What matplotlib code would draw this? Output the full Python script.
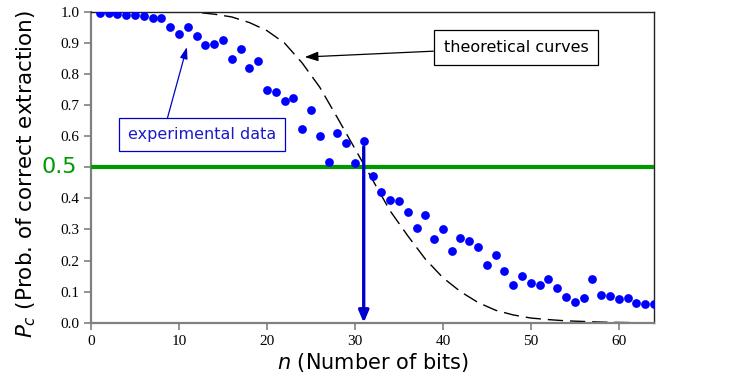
import numpy as np
import matplotlib.pyplot as plt

# experimental data, n = 1..64
n_exp = np.arange(1, 65)
p_exp = [0.996, 0.997, 0.995, 0.991, 0.991, 0.986, 0.980, 0.981, 0.951, 0.929,
         0.952, 0.923, 0.895, 0.897, 0.909, 0.850, 0.882, 0.821, 0.842, 0.748,
         0.743, 0.714, 0.722, 0.625, 0.686, 0.602, 0.518, 0.612, 0.579, 0.513,
         0.586, 0.472, 0.421, 0.395, 0.392, 0.356, 0.305, 0.348, 0.270, 0.302,
         0.230, 0.273, 0.264, 0.243, 0.186, 0.218, 0.167, 0.120, 0.150, 0.128,
         0.121, 0.142, 0.113, 0.084, 0.068, 0.080, 0.142, 0.088, 0.086, 0.076,
         0.080, 0.063, 0.059, 0.060]

# theoretical curve, read every 2 bits
n_th = np.arange(0, 66, 2)
p_th = [1.0, 1.0, 1.0, 1.0, 1.0, 1.0, 0.999, 0.993, 0.984, 0.966, 0.940,
        0.900, 0.836, 0.758, 0.660, 0.560, 0.460, 0.360, 0.280, 0.205, 0.145,
        0.100, 0.065, 0.040, 0.025, 0.015, 0.010, 0.006, 0.004, 0.002, 0.001,
        0.0, 0.0]

n_half = 31
p_top = 0.566

fig = plt.figure(figsize=(7.31, 3.84), dpi=100)
ax = fig.add_axes([0.1245, 0.1596, 0.7702, 0.8092])

ax.plot(n_th, p_th, color='k', linewidth=1, dashes=(11, 5), zorder=2)
ax.axhline(0.5, color='#009a00', linewidth=3, zorder=3)
ax.plot(n_exp, p_exp, 'o', color='#0000ff', markersize=6.3, markeredgewidth=0, zorder=4)

ax.annotate('', xy=(n_half, 0.0), xytext=(n_half, p_top),
            arrowprops=dict(arrowstyle='-|>,head_width=0.3,head_length=0.7',
                            color='#0000cc', linewidth=2.4, shrinkA=0, shrinkB=0),
            zorder=5)

ax.annotate('theoretical curves', xy=(24.3, 0.855), xytext=(40.1, 0.886),
            fontsize=11.5, ha='left', va='center',
            bbox=dict(boxstyle='square,pad=0.62', facecolor='white', edgecolor='k', linewidth=0.9),
            arrowprops=dict(arrowstyle='-|>,head_width=0.25,head_length=0.7',
                            color='k', linewidth=0.9, shrinkA=0, shrinkB=0))

ax.annotate('experimental data', xy=(10.9, 0.887), xytext=(4.2, 0.606),
            fontsize=11.5, ha='left', va='center', color='#1a1acc',
            bbox=dict(boxstyle='square,pad=0.55', facecolor='white', edgecolor='#0000cc', linewidth=0.9),
            arrowprops=dict(arrowstyle='-|>,head_width=0.2,head_length=0.6',
                            color='#0000cc', linewidth=0.9, shrinkA=0, shrinkB=0,
                            relpos=(0.25, 1.0)))

ax.set_xlim(0, 64)
ax.set_ylim(0, 1.0)
ax.set_xticks(np.arange(0, 61, 10))
yt = np.round(np.arange(0, 1.01, 0.1), 1)
ax.set_yticks(yt)
ax.set_yticklabels(['' if abs(v - 0.5) < 1e-9 else '%.1f' % v for v in yt])
for lab in ax.get_xticklabels() + ax.get_yticklabels():
    lab.set_family('Liberation Serif')
    lab.set_fontsize(11)
ax.tick_params(direction='out', length=5, width=1.2, color='#808080')
ax.text(-0.025, 0.5, '0.5', transform=ax.transAxes, ha='right', va='center',
        color='#009a00', fontsize=16)

for s in ['left', 'bottom']:
    ax.spines[s].set_color('#808080')
    ax.spines[s].set_linewidth(1.6)
for s in ['top', 'right']:
    ax.spines[s].set_color('#222222')
    ax.spines[s].set_linewidth(1.0)

ax.set_xlabel('$n$ (Number of bits)', fontsize=15)
ax.set_ylabel('$P_c$ (Prob. of correct extraction)', fontsize=15.5)
ax.xaxis.set_label_coords(0.5, -0.091)
ax.yaxis.set_label_coords(-0.094, 0.479)

fig.savefig('out.png', dpi=100)
